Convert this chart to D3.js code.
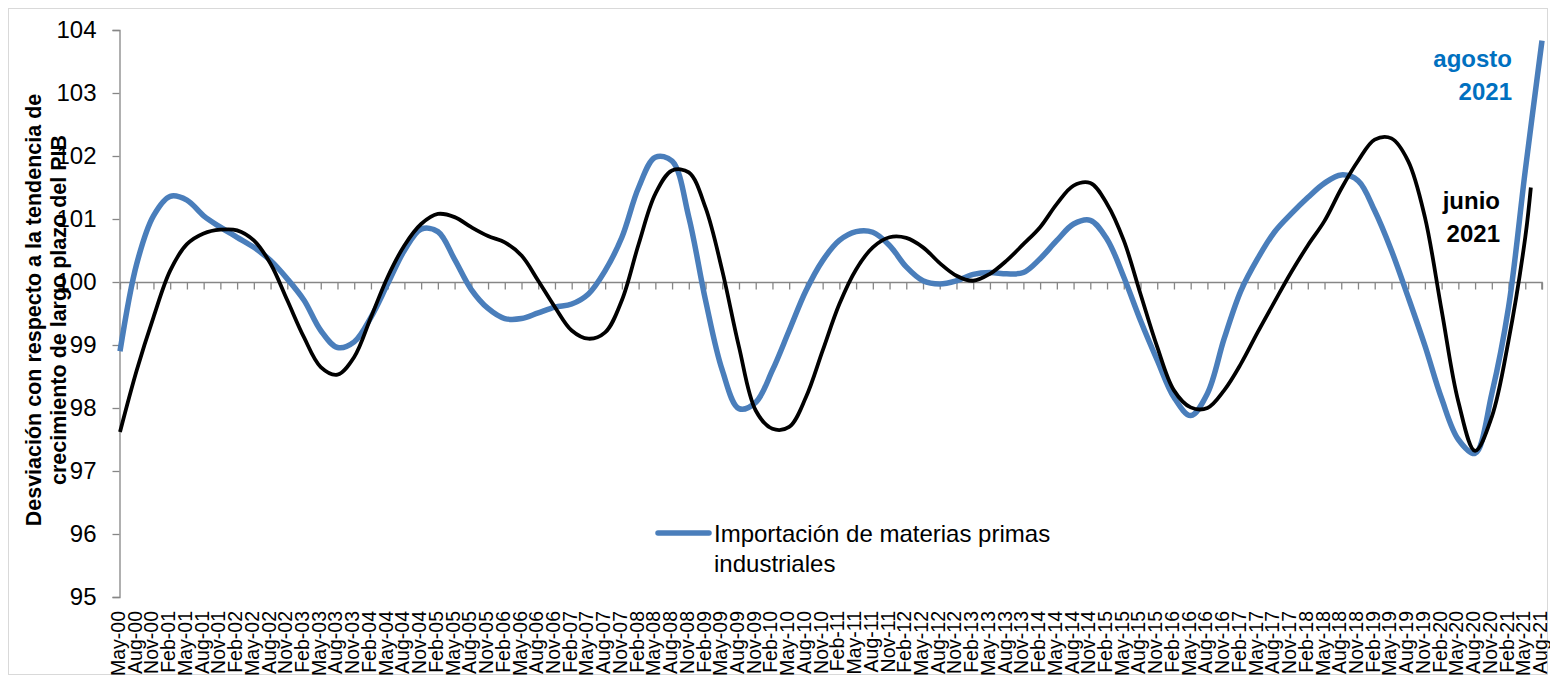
<!DOCTYPE html>
<html>
<head>
<meta charset="utf-8">
<script src="https://cdn.jsdelivr.net/npm/d3@7"></script>
<style>
  body { margin: 0; background: #fff; }
  svg { display: block; font-family: "Liberation Sans", Arial, sans-serif; }
</style>
</head>
<body>
<div id="chart"></div>
<script>
// quarterly categories, May-00 .. Aug-21
var monthNames = ['Feb', 'May', 'Aug', 'Nov'];
var quarterLabels = [];
for (var yr = 0; yr <= 21; yr++) {
  monthNames.forEach(function (m, i) {
    if (yr === 0 && i === 0) return;
    if (yr === 21 && i > 2) return;
    quarterLabels.push(m + '-' + (yr < 10 ? '0' + yr : '' + yr));
  });
}

var yTicks = [95, 96, 97, 98, 99, 100, 101, 102, 103, 104];

// Importación de materias primas industriales (to Aug-21)
var importValues = [
  98.90, 100.29, 101.05, 101.36, 101.30, 101.05, 100.87, 100.71, 100.55, 100.34,
  100.05, 99.71, 99.23, 98.96, 99.05, 99.44, 99.97, 100.50, 100.84, 100.80,
  100.36, 99.88, 99.58, 99.42, 99.42, 99.51, 99.60, 99.65, 99.81, 100.18,
  100.71, 101.50, 101.98, 101.92, 101.03, 99.71, 98.60, 97.99, 98.09, 98.60,
  99.23, 99.86, 100.34, 100.66, 100.80, 100.79, 100.58, 100.24, 100.02, 99.97,
  100.02, 100.12, 100.15, 100.13, 100.15, 100.37, 100.66, 100.92, 100.98, 100.68,
  100.08, 99.39, 98.76, 98.17, 97.88, 98.23, 99.10, 99.86, 100.37, 100.79,
  101.08, 101.34, 101.57, 101.70, 101.61, 101.13, 100.50, 99.76, 98.99, 98.15,
  97.50, 97.28, 98.23, 99.60, 101.77, 103.83
];

// black series (to May-21 quarterly, then last point Jun-21)
var pibValues = [
  97.62, 98.60, 99.44, 100.18, 100.60, 100.77, 100.83, 100.82, 100.66, 100.29,
  99.71, 99.12, 98.65, 98.53, 98.81, 99.44, 100.08, 100.58, 100.92, 101.08,
  101.03, 100.87, 100.73, 100.63, 100.42, 100.02, 99.60, 99.23, 99.10, 99.20,
  99.71, 100.60, 101.40, 101.77, 101.74, 101.18, 100.18, 98.97, 97.96, 97.67,
  97.70, 98.17, 98.91, 99.65, 100.20, 100.55, 100.71, 100.70, 100.55, 100.30,
  100.10, 100.02, 100.13, 100.34, 100.60, 100.87, 101.24, 101.53, 101.57, 101.24,
  100.66, 99.81, 98.97, 98.28, 98.01, 98.00, 98.28, 98.70, 99.20, 99.68,
  100.15, 100.58, 100.97, 101.48, 101.92, 102.26, 102.28, 101.92, 101.03, 99.55,
  98.10, 97.32, 97.86, 99.07, 100.71
];
var pibLastLabel = 'Jun-21';
var pibLastValue = 101.50;

var width = 1550, height = 681;
var lastMonth = (quarterLabels.length - 1) * 3;

var svg = d3.select('#chart').append('svg')
  .attr('width', width)
  .attr('height', height);

// outer frame
svg.append('rect')
  .attr('x', 8.5).attr('y', 8.5)
  .attr('width', 1539).attr('height', 666)
  .attr('fill', 'none')
  .attr('stroke', '#d9d9d9');

var x = d3.scaleLinear().domain([0, lastMonth]).range([120, 1542]);
var y = d3.scaleLinear().domain([95, 104]).range([597, 30]);

// y axis
var yAxis = svg.append('g')
  .attr('transform', 'translate(119.5,0)')
  .call(d3.axisLeft(y).tickValues(yTicks).tickSize(7).tickPadding(16).tickFormat(d3.format('d')));
yAxis.select('.domain').attr('stroke', '#868686').attr('stroke-width', 1.3);
yAxis.selectAll('.tick line').attr('stroke', '#868686').attr('stroke-width', 1.3);
yAxis.selectAll('.tick text')
  .attr('font-size', 24)
  .attr('fill', '#000')
  .attr('font-family', '"Liberation Sans", Arial, sans-serif');

// horizontal axis at 100 with quarterly ticks
var tickMonths = quarterLabels.map(function (d, i) { return i * 3; });
var xAxis = svg.append('g')
  .attr('transform', 'translate(0,' + Math.round(y(100)) + '.5)')
  .call(d3.axisBottom(x).tickValues(tickMonths).tickSize(7).tickFormat(''));
xAxis.select('.domain').attr('stroke', '#868686').attr('stroke-width', 1.6)
  .attr('d', 'M' + x(0) + ',0H' + x(lastMonth) + 'V7');
xAxis.selectAll('.tick line').attr('stroke', '#868686').attr('stroke-width', 1.3);

// category labels at the bottom
svg.append('g')
  .selectAll('text')
  .data(quarterLabels)
  .enter()
  .append('text')
  .attr('transform', function (d, i) {
    return 'translate(' + (x(i * 3) + 5) + ',611) rotate(-90)';
  })
  .attr('text-anchor', 'end')
  .attr('font-size', 19.5)
  .attr('fill', '#000')
  .text(function (d) { return d; });

// lines
var line = d3.line()
  .x(function (d) { return x(d.m); })
  .y(function (d) { return y(d.v); })
  .curve(d3.curveCatmullRom.alpha(0.5));

var importData = importValues.map(function (v, i) { return { m: i * 3, v: v }; });
var pibData = pibValues.map(function (v, i) { return { m: i * 3, v: v }; });
pibData.push({ m: quarterLabels.indexOf('May-21') * 3 + 1, v: pibLastValue, label: pibLastLabel });

svg.append('path')
  .datum(importData)
  .attr('d', line)
  .attr('fill', 'none')
  .attr('stroke', '#4a7ebb')
  .attr('stroke-width', 5.5)
  .attr('stroke-linejoin', 'round');

svg.append('path')
  .datum(pibData)
  .attr('d', line)
  .attr('fill', 'none')
  .attr('stroke', '#000')
  .attr('stroke-width', 3.8)
  .attr('stroke-linejoin', 'round');

// annotations
function note(lines, xr, y0, color) {
  var t = svg.append('text')
    .attr('text-anchor', 'end')
    .attr('font-size', 24)
    .attr('font-weight', 'bold')
    .attr('fill', color);
  lines.forEach(function (s, i) {
    t.append('tspan').attr('x', xr).attr('y', y0 + i * 32.5).text(s);
  });
}
note(['agosto', '2021'], 1512, 67, '#0070c0');
note(['junio', '2021'], 1500, 209, '#000');

// y axis title
var title = svg.append('text')
  .attr('transform', 'rotate(-90)')
  .attr('text-anchor', 'middle')
  .attr('font-size', 21.5)
  .attr('font-weight', 'bold')
  .attr('fill', '#000');
title.append('tspan').attr('x', -310).attr('y', 41).text('Desviación con respecto a la tendencia de');
title.append('tspan').attr('x', -310).attr('y', 66).text('crecimiento de largo plazo del PIB');

// legend
svg.append('line')
  .attr('x1', 658).attr('x2', 709)
  .attr('y1', 533).attr('y2', 533)
  .attr('stroke', '#4a7ebb')
  .attr('stroke-width', 5.5)
  .attr('stroke-linecap', 'round');
var leg = svg.append('text')
  .attr('font-size', 24)
  .attr('fill', '#000');
leg.append('tspan').attr('x', 714).attr('y', 542).text('Importación de materias primas');
leg.append('tspan').attr('x', 714).attr('y', 572).text('industriales');
</script>
</body>
</html>
